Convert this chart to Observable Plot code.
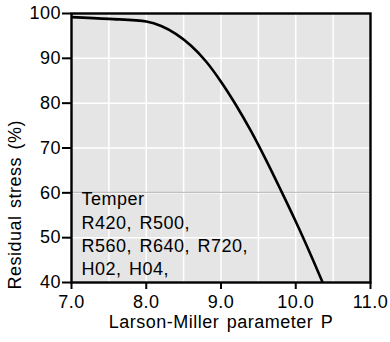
<!DOCTYPE html>
<html>
<head>
<meta charset="utf-8">
<script src="https://cdn.jsdelivr.net/npm/d3@7"></script>
<script src="https://cdn.jsdelivr.net/npm/@observablehq/plot@0.6"></script>
<style>
  html, body { margin: 0; padding: 0; background: white; }
  svg text { letter-spacing: 0.5px; word-spacing: 2px; }
</style>
</head>
<body>
<div id="chart"></div>
<script>
const P = [7.0, 7.5, 8.0, 8.2, 8.4, 8.6, 8.8, 9.0, 9.2, 9.4, 9.6, 9.8, 10.0, 10.2, 10.36];
const stress = [99.2, 98.8, 98.2, 97.2, 95.4, 92.8, 89.3, 84.8, 79.6, 73.8, 67.4, 60.6, 53.6, 46.2, 40.0];
const xTicks = [7, 8, 9, 10, 11];
const xGrid = [7.5, 8, 8.5, 9, 9.5, 10, 10.5];
const yTicks = [40, 50, 60, 70, 80, 90, 100];
const xLabel = "Larson-Miller parameter P";
const yLabel = "Residual stress (%)";
const annotation = ["Temper", "R420, R500,", "R560, R640, R720,", "H02, H04,"];

const data = P.map((p, i) => ({p, s: stress[i]}));

const chart = Plot.plot({
  width: 390,
  height: 342,
  marginLeft: 71,
  marginRight: 20,
  marginTop: 13,
  marginBottom: 60,
  style: {fontFamily: "Arial, 'Liberation Sans', sans-serif", fontSize: "18px", color: "black", background: "white"},
  x: {domain: [7, 11]},
  y: {domain: [40, 100]},
  marks: [
    Plot.frame({fill: "#e5e5e5"}),
    Plot.gridX(xGrid, {stroke: "white", strokeOpacity: 1, strokeWidth: 1.5}),
    Plot.gridY(yTicks, {stroke: "white", strokeOpacity: 1, strokeWidth: 1.5}),
    Plot.gridY(yTicks.filter(t => t === 60), {stroke: "#b4b4b4", strokeOpacity: 1, strokeWidth: 1, dy: -0.5}),
    Plot.line(data, {x: "p", y: "s", curve: "catmull-rom", stroke: "black", strokeWidth: 2.6, clip: true}),
    Plot.text([annotation.join("\n")], {frameAnchor: "top-left", textAnchor: "start", lineAnchor: "top", dx: 10, dy: 175, lineHeight: 1.3, fontSize: 18}),
    Plot.frame({stroke: "black", strokeWidth: 2.4}),
    Plot.axisX({ticks: xTicks, tickFormat: d3.format(".1f"), tickSize: 7, tickPadding: 6, strokeWidth: 2, label: null}),
    Plot.axisY({ticks: yTicks, tickSize: 9, tickPadding: 1.5, strokeWidth: 2, label: null}),
    Plot.text([xLabel], {frameAnchor: "bottom", textAnchor: "middle", lineAnchor: "middle", dy: 40, fontSize: 18}),
    Plot.text([yLabel], {frameAnchor: "bottom-left", textAnchor: "start", lineAnchor: "middle", rotate: -90, dx: -56, dy: 7, fontSize: 18})
  ]
});
document.getElementById("chart").appendChild(chart);
</script>
</body>
</html>
